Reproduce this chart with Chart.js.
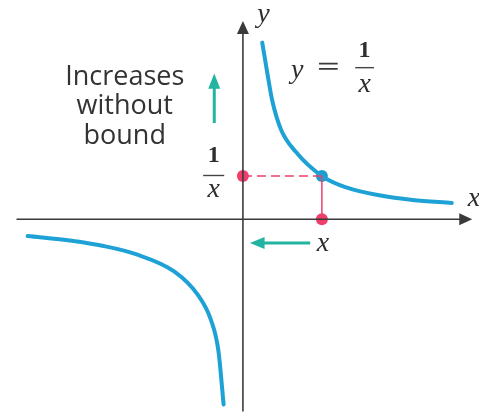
<!DOCTYPE html>
<html>
<head>
<meta charset="utf-8">
<script src="https://cdn.jsdelivr.net/npm/chart.js@4/dist/chart.umd.min.js"></script>
<style>
html,body{margin:0;padding:0;background:#fff;}
#wrap{width:479px;height:420px;position:relative;}
</style>
</head>
<body>
<div id="wrap"><canvas id="c"></canvas></div>
<script>
// Points (units: 1 unit ~ 60 px)
const upperX = [0.33, 0.42, 0.5, 0.65, 0.9, 1.35, 1.78, 2.33, 2.9, 3.57];
const upperY = [3.03, 2.49, 2.04, 1.54, 1.16, 0.74, 0.54, 0.41, 0.33, 0.28];
const lowerX = [-3.68, -2.93, -2.38, -1.83, -1.17, -0.77, -0.55, -0.42, -0.33];
const lowerY = [-0.29, -0.37, -0.46, -0.6, -0.9, -1.3, -1.72, -2.25, -3.18];
const markX = [1.35];
const markY = [0.74];
const xAxisRange = [-3.87, 3.92];
const yAxisRange = [-3.3, 3.4];
const viewX = [-4.05, 3.933];
const viewY = [-3.342, 3.658];

const BLUE = '#1ea2d6';
const PINK = '#ee3f6b';
const TEAL = '#22b4a0';
const AXIS = '#3a3a3a';

const pts = (xs, ys) => xs.map((x, i) => ({x: x, y: ys[i]}));

const data = {
  datasets: [
    {data: [{x: xAxisRange[0], y: 0}, {x: xAxisRange[1] - 0.15, y: 0}], borderColor: AXIS, borderWidth: 1.6, pointRadius: 0, showLine: true},
    {data: [{x: 0, y: yAxisRange[0]}, {x: 0, y: yAxisRange[1] - 0.15}], borderColor: AXIS, borderWidth: 1.6, pointRadius: 0, showLine: true},
    {data: [{x: 0, y: markY[0]}, {x: markX[0], y: markY[0]}], borderColor: PINK, borderWidth: 1.5, borderDash: [9, 5], pointRadius: 0, showLine: true},
    {data: [{x: markX[0], y: 0}, {x: markX[0], y: markY[0]}], borderColor: PINK, borderWidth: 1.5, pointRadius: 0, showLine: true},
    {data: pts(upperX, upperY), borderColor: BLUE, borderWidth: 4, pointRadius: 0, showLine: true, tension: 0.4, cubicInterpolationMode: 'monotone', borderCapStyle: 'round'},
    {data: pts(lowerX, lowerY), borderColor: BLUE, borderWidth: 4, pointRadius: 0, showLine: true, tension: 0.4, cubicInterpolationMode: 'monotone', borderCapStyle: 'round'},
    {data: [{x: 0, y: markY[0]}, {x: markX[0], y: 0}], pointRadius: 6, pointBackgroundColor: PINK, pointBorderWidth: 0, showLine: false},
    {data: pts(markX, markY), pointRadius: 6, pointBackgroundColor: '#1b9ccc', pointBorderWidth: 0, showLine: false}
  ]
};

const deco = {
  id: 'deco',
  afterDatasetsDraw(chart) {
    const ctx = chart.ctx;
    const sx = chart.scales.x, sy = chart.scales.y;
    const px = v => sx.getPixelForValue(v);
    const py = v => sy.getPixelForValue(v);
    ctx.save();
    // axis arrowheads
    ctx.fillStyle = AXIS;
    const ox = px(0), oy = py(0);
    const xt = px(xAxisRange[1]);
    ctx.beginPath();
    ctx.moveTo(xt, oy); ctx.lineTo(xt - 13, oy - 6); ctx.lineTo(xt - 13, oy + 6); ctx.closePath(); ctx.fill();
    const yt = py(yAxisRange[1]);
    ctx.beginPath();
    ctx.moveTo(ox, yt); ctx.lineTo(ox - 6, yt + 13); ctx.lineTo(ox + 6, yt + 13); ctx.closePath(); ctx.fill();

    // teal arrows
    ctx.strokeStyle = TEAL; ctx.fillStyle = TEAL; ctx.lineWidth = 3;
    const ax = px(-0.49);
    ctx.beginPath(); ctx.moveTo(ax, py(1.65)); ctx.lineTo(ax, py(2.3)); ctx.stroke();
    ctx.beginPath(); ctx.moveTo(ax, py(2.5)); ctx.lineTo(ax - 6, py(2.24)); ctx.lineTo(ax + 6, py(2.24)); ctx.closePath(); ctx.fill();
    const ay = py(-0.41);
    ctx.beginPath(); ctx.moveTo(px(1.15), ay); ctx.lineTo(px(0.33), ay); ctx.stroke();
    ctx.beginPath(); ctx.moveTo(px(0.12), ay); ctx.lineTo(px(0.37), ay - 6); ctx.lineTo(px(0.37), ay + 6); ctx.closePath(); ctx.fill();

    // math labels
    ctx.fillStyle = '#2e2e2e';
    ctx.textAlign = 'center'; ctx.textBaseline = 'alphabetic';
    ctx.font = 'italic 28px "Liberation Serif"';
    ctx.fillText('y', px(0.35), py(3.38));
    ctx.fillText('x', px(3.95), py(0.22));
    ctx.fillText('x', px(1.37), py(-0.55));
    // y = 1/x
    ctx.fillText('y', px(0.93), py(2.43));
    ctx.lineWidth = 1.8; ctx.strokeStyle = '#3a3a3a';
    ctx.beginPath();
    ctx.moveTo(px(1.3), py(2.58)); ctx.lineTo(px(1.62), py(2.58));
    ctx.moveTo(px(1.3), py(2.67)); ctx.lineTo(px(1.62), py(2.67));
    ctx.stroke();
    ctx.font = 'bold 24px "Liberation Serif"';
    ctx.fillText('1', px(2.08), py(2.78));
    ctx.font = 'italic 28px "Liberation Serif"';
    ctx.fillText('x', px(2.08), py(2.18));
    ctx.lineWidth = 1.4; ctx.strokeStyle = '#444';
    ctx.beginPath(); ctx.moveTo(px(1.92), py(2.6)); ctx.lineTo(px(2.24), py(2.6)); ctx.stroke();
    // left 1/x
    ctx.font = 'bold 24px "Liberation Serif"';
    ctx.fillText('1', px(-0.5), py(0.98));
    ctx.font = 'italic 28px "Liberation Serif"';
    ctx.fillText('x', px(-0.5), py(0.38));
    ctx.beginPath(); ctx.moveTo(px(-0.68), py(0.75)); ctx.lineTo(px(-0.32), py(0.75)); ctx.stroke();

    // text block
    ctx.fillStyle = '#333';
    ctx.font = '27px "Open Sans"';
    const tx = px(-2.02);
    ctx.fillText('Increases', tx, py(2.31));
    ctx.fillText('without', tx, py(1.8));
    ctx.fillText('bound', tx, py(1.29));
    ctx.restore();
  }
};

new Chart(document.getElementById('c'), {
  type: 'scatter',
  data: data,
  options: {
    responsive: true,
    maintainAspectRatio: false,
    animation: false,
    layout: {padding: 0},
    plugins: {legend: {display: false}, tooltip: {enabled: false}, title: {display: false}},
    scales: {
      x: {type: 'linear', display: false, min: viewX[0], max: viewX[1]},
      y: {type: 'linear', display: false, min: viewY[0], max: viewY[1]}
    }
  },
  plugins: [deco]
});
</script>
</body>
</html>
